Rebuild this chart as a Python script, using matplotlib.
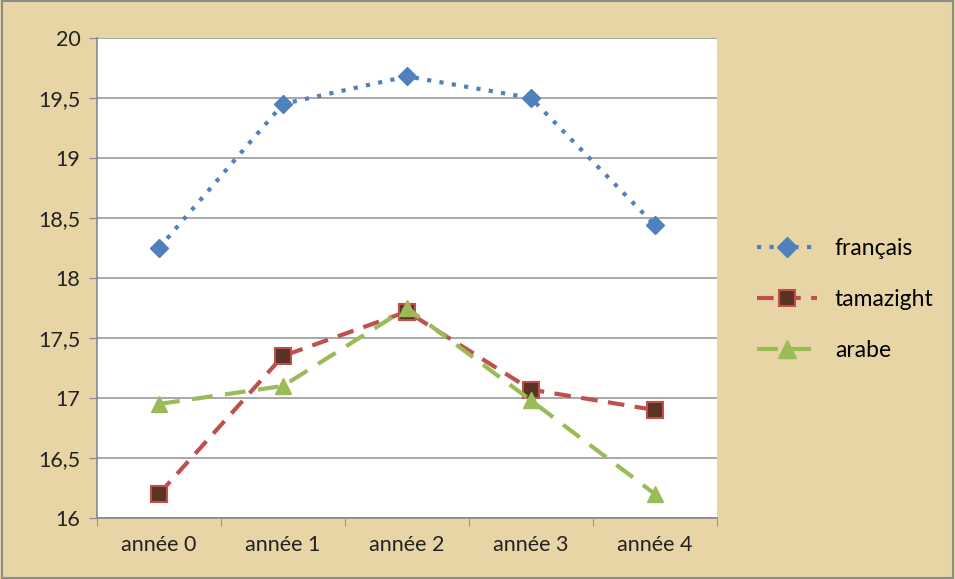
import matplotlib.pyplot as plt
from matplotlib.patches import Rectangle

categories = ["année 0", "année 1", "année 2", "année 3", "année 4"]
francais = [18.25, 19.45, 19.68, 19.5, 18.44]
tamazight = [16.2, 17.35, 17.72, 17.07, 16.9]
arabe = [16.95, 17.1, 17.75, 16.98, 16.2]
yticks = [16, 16.5, 17, 17.5, 18, 18.5, 19, 19.5, 20]
ylabels = ["16", "16,5", "17", "17,5", "18", "18,5", "19", "19,5", "20"]

plt.rcParams['font.family'] = ['Lato', 'DejaVu Sans']

fig = plt.figure(figsize=(9.55, 5.79), dpi=100)
fig.patch.set_facecolor('#E8D5A6')
fig.patches.append(Rectangle((0.002, 0.002), 0.996, 0.996, transform=fig.transFigure,
                             fill=False, edgecolor='#8c8c8c', linewidth=1.5))

ax = fig.add_axes([0.1016, 0.1054, 0.649, 0.829])
ax.set_facecolor('white')
x = range(len(categories))

ax.plot(x, francais, linestyle=(0, (1, 2)), color='#4F81BD', linewidth=3,
        marker='D', markersize=9, markerfacecolor='#4F81BD', markeredgecolor='#4F81BD',
        label='français', zorder=3)
ax.plot(x, tamazight, linestyle=(0, (4, 2.5)), color='#C0504D', linewidth=3,
        marker='s', markersize=11, markerfacecolor='#5a3422', markeredgecolor='#C0504D',
        markeredgewidth=1.5, label='tamazight', zorder=3)
ax.plot(x, arabe, linestyle=(0, (5, 3)), color='#9BBB59', linewidth=3,
        marker='^', markersize=12, markerfacecolor='#9BBB59', markeredgecolor='#9BBB59',
        label='arabe', zorder=4)

ax.set_xlim(-0.5, 4.5)
ax.set_ylim(16, 20)
ax.set_yticks(yticks)
ax.set_yticklabels(ylabels, fontsize=15.5, color='#222222')
ax.set_xticks(x)
ax.set_xticklabels(categories, fontsize=15.5, color='#222222')
ax.set_xticks([-0.5, 0.5, 1.5, 2.5, 3.5, 4.5], minor=True)
ax.tick_params(axis='x', which='major', length=0, pad=12)
ax.tick_params(axis='x', which='minor', length=6, color='#888888')
ax.tick_params(axis='y', length=6, color='#888888', pad=6)
ax.grid(axis='y', color='#999999', linewidth=1.2)
ax.set_axisbelow(True)
for s in ['top', 'right']:
    ax.spines[s].set_visible(False)
for s in ['left', 'bottom']:
    ax.spines[s].set_color('#888888')
    ax.spines[s].set_linewidth(1.2)

leg = fig.legend(loc='center left', bbox_to_anchor=(0.771, 0.483), frameon=False,
                 fontsize=16.5, handlelength=2.6, labelspacing=1.3, markerscale=1.1)

plt.savefig('out.png', dpi=100, facecolor=fig.get_facecolor())
